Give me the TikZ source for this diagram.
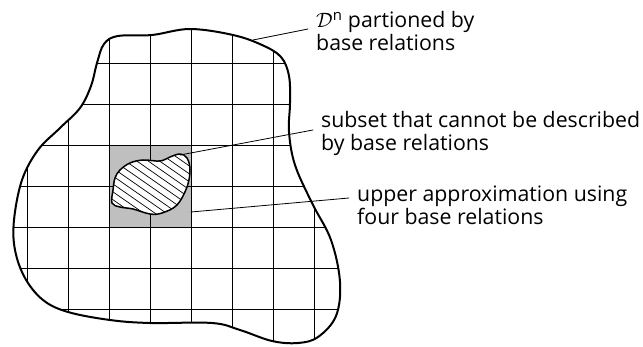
\documentclass[tikz,border=0pt]{standalone}
\usepackage{fontspec}
\setmainfont{Open Sans}
\begin{document}
\begin{tikzpicture}[x=1pt,y=-1pt,line join=round,line cap=round,font=\fontsize{21.3}{23}\selectfont,
	rim/.style={line width=2pt},
	gridline/.style={line width=0.7pt},
	leader/.style={line width=0.8pt},
	hatch/.style={line width=0.7pt},
	lab/.style={align=left,anchor=base west,inner xsep=8pt,inner ysep=0pt}]
	\useasboundingbox[fill=white] (0,0) rectangle (643,347);
	\node[fill=black!25,minimum size=82pt,inner sep=0pt] (apx) at (150,186) {};
	\begin{scope}
	\clip plot[smooth cycle,tension=0.6] coordinates {(97,63) (104,44) (118,36) (152,35) (190,29) (233,35) (262,45) (281,57) (289,76) (290,103) (289,132) (295,165) (312,203) (331,240) (340,282) (336,316) (318,337) (298,343) (272,341) (240,330) (212,323) (150,323) (110,320) (68,312) (43,300) (25,278) (15,250) (14,220) (22,180) (38,150) (60,128) (80,108) (91,86)};
	\foreach \k in {0,...,7} \draw[gridline] (27+41*\k,0) -- (27+41*\k,347);
	\foreach \k in {0,...,6} \draw[gridline] (0,63+41*\k) -- (643,63+41*\k);
	\end{scope}
	\draw[rim] plot[smooth cycle,tension=0.6] coordinates {(97,63) (104,44) (118,36) (152,35) (190,29) (233,35) (262,45) (281,57) (289,76) (290,103) (289,132) (295,165) (312,203) (331,240) (340,282) (336,316) (318,337) (298,343) (272,341) (240,330) (212,323) (150,323) (110,320) (68,312) (43,300) (25,278) (15,250) (14,220) (22,180) (38,150) (60,128) (80,108) (91,86)};
	\fill[white] plot[smooth cycle,tension=0.6] coordinates {(112,203) (120,207) (133,209) (150,214) (162,213) (177,205) (187,187) (190,170) (187,158) (180,154) (170,157) (160,161) (143,160) (130,163) (120,170) (115,178) (113,190)};
	\begin{scope}
	\clip plot[smooth cycle,tension=0.6] coordinates {(112,203) (120,207) (133,209) (150,214) (162,213) (177,205) (187,187) (190,170) (187,158) (180,154) (170,157) (160,161) (143,160) (130,163) (120,170) (115,178) (113,190)};
	\foreach \i in {-9,...,9} \draw[hatch] (150+\i*3.7-82,186-\i*5.33-57) -- ++(164,114);
	\end{scope}
	\draw[line width=1.5pt] plot[smooth cycle,tension=0.6] coordinates {(112,203) (120,207) (133,209) (150,214) (162,213) (177,205) (187,187) (190,170) (187,158) (180,154) (170,157) (160,161) (143,160) (130,163) (120,170) (115,178) (113,190)};
	\coordinate (rimpt) at (253,40);
	\coordinate (blobpt) at (180,155);
	\coordinate (apxpt) at (191,212);
	\node[lab] (dom) at (308,51) {$\mathcal{D}$\textsuperscript{n} partioned by\\base relations};
	\node[lab] (sub) at (313,151) {subset that cannot be described\\by base relations};
	\node[lab] (upp) at (349,225) {upper approximation using\\four base relations};
	\draw[leader] (rimpt) -- ([yshift=22pt]dom.base west);
	\draw[leader] (blobpt) -- ([yshift=21pt]sub.base west);
	\draw[leader] (apxpt) -- ([yshift=27pt]upp.base west);
\end{tikzpicture}
\end{document}
